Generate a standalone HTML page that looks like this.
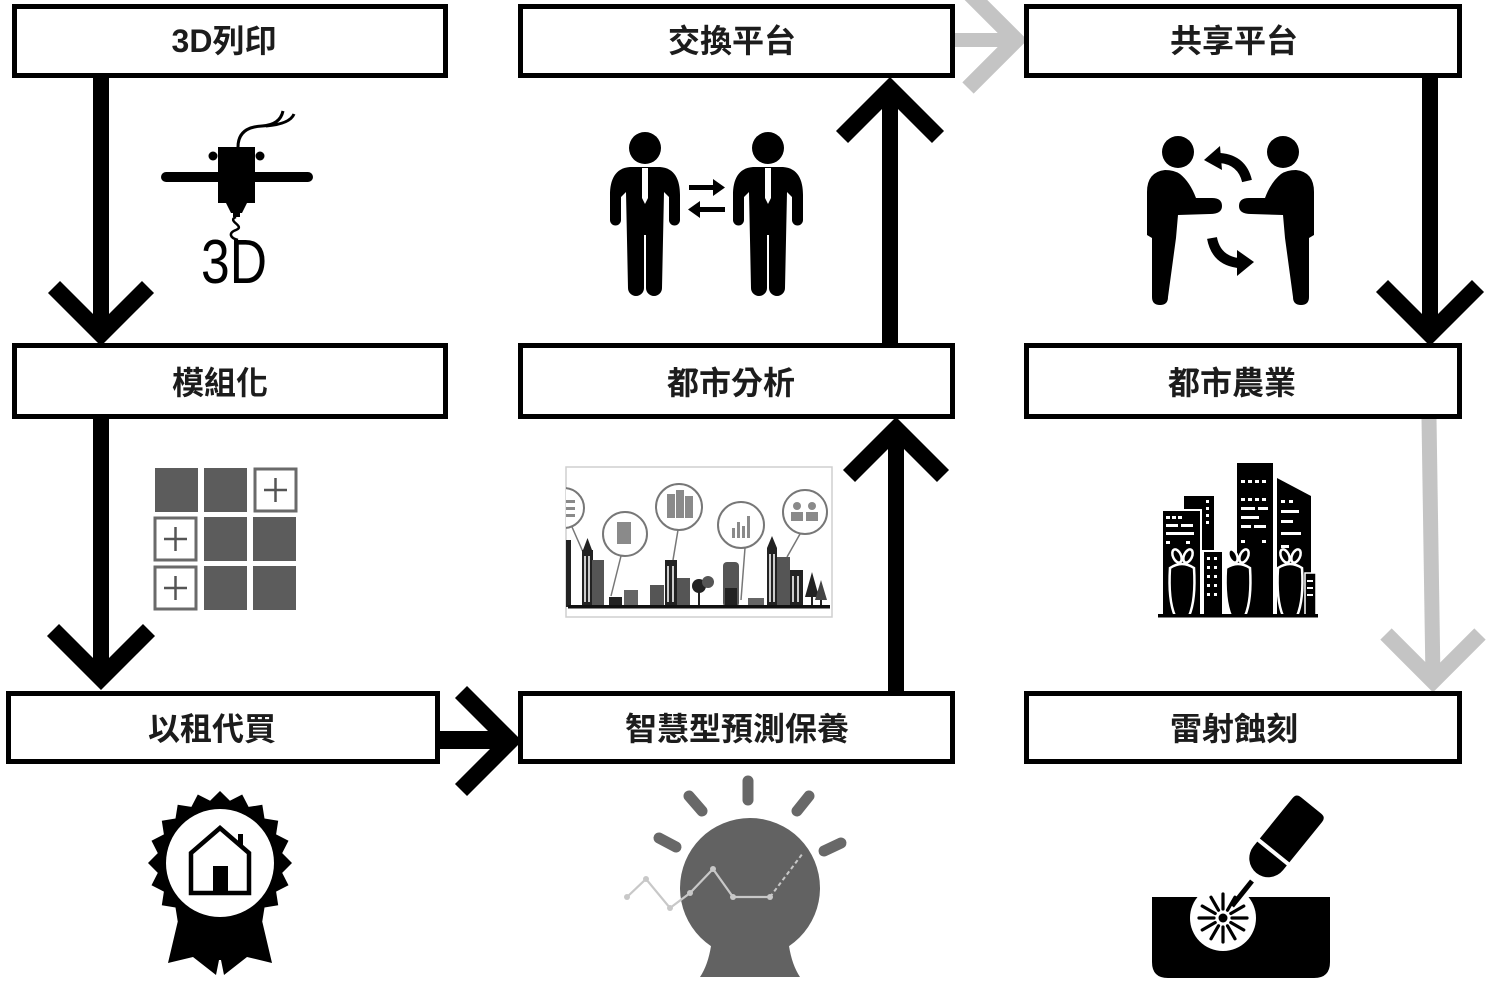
<!DOCTYPE html>
<html><head><meta charset="utf-8"><style>
html,body{margin:0;padding:0;background:#fff;}
svg{display:block;}
.t{font-family:"Liberation Sans","Noto Sans CJK TC","Noto Sans CJK SC",sans-serif;font-size:32px;font-weight:bold;fill:#1c1c1c;text-anchor:middle;}
</style></head><body>
<svg width="1486" height="996" viewBox="0 0 1486 996" xmlns="http://www.w3.org/2000/svg">
<defs>
<clipPath id="cityclip"><rect x="566" y="467" width="266" height="150"/></clipPath>
</defs>
<rect width="1486" height="996" fill="#fff"/>

<!-- ===== connectors ===== -->
<g fill="none" stroke-linejoin="miter" stroke-linecap="butt">
  <line x1="101" y1="76" x2="101" y2="334" stroke="#000" stroke-width="16"/>
  <polyline points="54,287 101,334 148,287" stroke="#000" stroke-width="17"/>
  <line x1="101" y1="417" x2="101" y2="678" stroke="#000" stroke-width="16"/>
  <polyline points="53,630 101,678 149,630" stroke="#000" stroke-width="17"/>
  <line x1="438" y1="740" x2="510" y2="740" stroke="#000" stroke-width="18"/>
  <polyline points="461,692 510,741 461,790" stroke="#000" stroke-width="17"/>
  <line x1="896" y1="693" x2="896" y2="430" stroke="#000" stroke-width="16"/>
  <polyline points="849,476 896,429 943,476" stroke="#000" stroke-width="17"/>
  <line x1="890" y1="345" x2="890" y2="90" stroke="#000" stroke-width="16"/>
  <polyline points="842,137 890,89 938,137" stroke="#000" stroke-width="17"/>
  <line x1="953" y1="40" x2="1014" y2="40" stroke="#c4c4c4" stroke-width="14"/>
  <polyline points="968,-8 1016,40 968,88" stroke="#c4c4c4" stroke-width="16"/>
  <line x1="1430" y1="76" x2="1430" y2="334" stroke="#000" stroke-width="16"/>
  <polyline points="1382,286 1430,334 1478,286" stroke="#000" stroke-width="17"/>
  <line x1="1429" y1="418" x2="1433" y2="680" stroke="#c4c4c4" stroke-width="15"/>
  <polyline points="1386,634 1433,681 1480,634" stroke="#c4c4c4" stroke-width="16"/>
</g>

<!-- ===== boxes ===== -->
<g fill="#fff" stroke="#000" stroke-width="5">
  <rect x="14.5" y="6.5" width="431" height="69"/>
  <rect x="520.5" y="6.5" width="432" height="69"/>
  <rect x="1026.5" y="6.5" width="433" height="69"/>
  <rect x="14.5" y="345.5" width="431" height="71"/>
  <rect x="520.5" y="345.5" width="432" height="71"/>
  <rect x="1026.5" y="345.5" width="433" height="71"/>
  <rect x="8.5" y="693.5" width="429" height="68"/>
  <rect x="520.5" y="693.5" width="432" height="68"/>
  <rect x="1026.5" y="693.5" width="433" height="68"/>
</g>
<text class="t" x="224" y="52">3D列印</text>
<text class="t" x="732" y="52">交換平台</text>
<text class="t" x="1234" y="52">共享平台</text>
<text class="t" x="220" y="394">模組化</text>
<text class="t" x="731" y="394">都市分析</text>
<text class="t" x="1232" y="394">都市農業</text>
<text class="t" x="212" y="740">以租代買</text>
<text class="t" x="737" y="740">智慧型預測保養</text>
<text class="t" x="1234" y="740">雷射蝕刻</text>

<!-- ===== 3D printer icon ===== -->
<g>
  <line x1="166" y1="177" x2="308" y2="177" stroke="#000" stroke-width="10" stroke-linecap="round"/>
  <rect x="218" y="147" width="37" height="56" fill="#000"/>
  <circle cx="213" cy="156" r="4.5" fill="#000"/>
  <circle cx="260" cy="156" r="4.5" fill="#000"/>
  <polygon points="226,203 247,203 242,213 231,213" fill="#000"/>
  <rect x="233" y="212" width="7" height="5" fill="#000"/>
  <path d="M238,147 Q238,127 262,126 Q280,125 283,111" fill="none" stroke="#000" stroke-width="3"/>
  <path d="M266,126 Q290,124 294,114" fill="none" stroke="#000" stroke-width="3"/>
  <path d="M236,217 C226,221 246,226 236,230 C228,233 230,238 238,240" fill="none" stroke="#000" stroke-width="2.5"/>
  <text x="201" y="283" font-family="Liberation Sans, sans-serif" font-size="62" fill="#000" textLength="66" lengthAdjust="spacingAndGlyphs">3D</text>
</g>

<!-- ===== businessmen ===== -->
<g fill="#000">
  <circle cx="645" cy="148" r="16"/>
  <path d="M630,167 C615,168 610,180 610,195 L610,220 A5.5,5.5 0 0 0 621,220 L621,197 L626,192 L628,288 A8,8 0 0 0 644,288 L644,235 L646,235 L646,288 A8,8 0 0 0 662,288 L664,192 L669,197 L669,220 A5.5,5.5 0 0 0 680,220 L680,195 C680,180 675,168 660,167 Z"/>
  <polygon points="642,168 648,168 648,198 645,204 642,198" fill="#fff"/>
  <circle cx="768" cy="148" r="16"/>
  <path d="M753,167 C738,168 733,180 733,195 L733,220 A5.5,5.5 0 0 0 744,220 L744,197 L749,192 L751,288 A8,8 0 0 0 767,288 L767,235 L769,235 L769,288 A8,8 0 0 0 785,288 L787,192 L792,197 L792,220 A5.5,5.5 0 0 0 803,220 L803,195 C803,180 798,168 783,167 Z"/>
  <polygon points="765,168 771,168 771,198 768,204 765,198" fill="#fff"/>
  <rect x="689" y="185" width="26" height="5"/>
  <polygon points="713,179 725,187.5 713,196"/>
  <rect x="698" y="207" width="27" height="5"/>
  <polygon points="700,201 688,209.5 700,218"/>
</g>

<!-- ===== handshake ===== -->
<g fill="#000">
  <circle cx="1178" cy="152" r="16"/>
  <circle cx="1283" cy="152" r="16"/>
  <path d="M1165,170 Q1147,172 1147,192 L1147,235 L1152,238 L1152,297 Q1152,305 1160,305 Q1168,305 1168,297 L1176,238 L1178,215 L1210,214 Q1222,214 1222,206 Q1222,198 1212,198 L1196,198 Q1190,182 1180,174 Q1174,170 1165,170 Z"/>
  <g transform="translate(2461,0) scale(-1,1)">
    <path d="M1165,170 Q1147,172 1147,192 L1147,235 L1152,238 L1152,297 Q1152,305 1160,305 Q1168,305 1168,297 L1176,238 L1178,215 L1210,214 Q1222,214 1222,206 Q1222,198 1212,198 L1196,198 Q1190,182 1180,174 Q1174,170 1165,170 Z"/>
  </g>
  <path d="M1247,181 Q1242,160 1220,158" fill="none" stroke="#000" stroke-width="10"/>
  <polygon points="1204,160 1220,146 1222,170"/>
  <path d="M1212,238 Q1216,260 1238,263" fill="none" stroke="#000" stroke-width="10"/>
  <polygon points="1254,262 1237,250 1237,276"/>
</g>

<!-- ===== module grid ===== -->
<g>
  <rect x="155" y="468" width="43" height="44" fill="#5c5c5c"/>
  <rect x="204" y="468" width="43" height="44" fill="#5c5c5c"/>
  <rect x="255" y="469" width="41" height="42" fill="#fff" stroke="#6a6a6a" stroke-width="3"/>
  <rect x="155" y="518" width="41" height="42" fill="#fff" stroke="#6a6a6a" stroke-width="3"/>
  <rect x="204" y="517" width="43" height="44" fill="#5c5c5c"/>
  <rect x="253" y="517" width="43" height="44" fill="#5c5c5c"/>
  <rect x="155" y="567" width="41" height="42" fill="#fff" stroke="#6a6a6a" stroke-width="3"/>
  <rect x="204" y="566" width="43" height="44" fill="#5c5c5c"/>
  <rect x="253" y="566" width="43" height="44" fill="#5c5c5c"/>
  <g stroke="#555" stroke-width="2.5">
    <line x1="264" y1="490" x2="287" y2="490"/><line x1="275.5" y1="478" x2="275.5" y2="502"/>
    <line x1="164" y1="539" x2="187" y2="539"/><line x1="175.5" y1="527" x2="175.5" y2="551"/>
    <line x1="164" y1="588" x2="187" y2="588"/><line x1="175.5" y1="576" x2="175.5" y2="600"/>
  </g>
</g>

<!-- ===== city analysis picture ===== -->
<g>
  <rect x="566" y="467" width="266" height="150" fill="#fff" stroke="#cfcfcf" stroke-width="1.5"/>
  <g clip-path="url(#cityclip)">
    <g fill="none" stroke="#777" stroke-width="1.5">
      <line x1="572" y1="527" x2="583" y2="552"/>
      <line x1="621" y1="556" x2="611" y2="596"/>
      <line x1="678" y1="530" x2="673" y2="560"/>
      <line x1="745" y1="548" x2="741" y2="600"/>
      <line x1="800" y1="534" x2="787" y2="557"/>
    </g>
    <g fill="#fff" stroke="#777" stroke-width="2">
      <circle cx="564" cy="508" r="20"/>
      <circle cx="625" cy="534" r="22"/>
      <circle cx="679" cy="507" r="23"/>
      <circle cx="741" cy="525" r="23"/>
      <circle cx="805" cy="512" r="22"/>
    </g>
    <g fill="#8a8a8a">
      <rect x="566" y="500" width="9" height="3"/><rect x="566" y="507" width="9" height="3"/><rect x="566" y="514" width="9" height="3"/>
      <rect x="617" y="522" width="14" height="22"/>
      <rect x="667" y="494" width="8" height="24"/><rect x="676" y="490" width="8" height="28"/><rect x="685" y="496" width="8" height="22"/>
      <rect x="732" y="528" width="3" height="10"/><rect x="737" y="522" width="3" height="16"/><rect x="742" y="526" width="3" height="12"/><rect x="747" y="516" width="3" height="22"/>
      <circle cx="797" cy="506" r="4"/><circle cx="812" cy="506" r="4"/><rect x="791" y="512" width="12" height="9"/><rect x="806" y="512" width="12" height="9"/>
    </g>
    <g fill="#222">
      <rect x="566" y="540" width="5" height="67"/>
      <rect x="582" y="550" width="11" height="57"/>
      <polygon points="583,550 587.5,538 592,550"/>
      <rect x="592" y="560" width="12" height="47" fill="#555"/>
      <rect x="609" y="597" width="13" height="10"/>
      <rect x="624" y="590" width="14" height="17" fill="#666"/>
      <rect x="650" y="585" width="14" height="22" fill="#555"/>
      <rect x="665" y="560" width="12" height="47"/>
      <rect x="677" y="578" width="13" height="29" fill="#555"/>
      <circle cx="699" cy="586" r="7"/>
      <circle cx="708" cy="582" r="6" fill="#555"/>
      <rect x="698" y="590" width="2" height="17"/>
      <rect x="723" y="562" width="16" height="45" rx="4" fill="#555"/>
      <rect x="725" y="588" width="12" height="19"/>
      <rect x="748" y="598" width="16" height="9" fill="#666"/>
      <rect x="767" y="548" width="10" height="59"/>
      <polygon points="767,548 772,536 777,548"/>
      <rect x="777" y="557" width="13" height="50" fill="#555"/>
      <rect x="790" y="570" width="13" height="37"/>
      <polygon points="805,597 812,572 819,597"/>
      <polygon points="815,600 821,580 827,600" fill="#444"/>
      <rect x="811" y="597" width="2" height="10"/>
      <rect x="820" y="600" width="2" height="7"/>
    </g>
    <g fill="#ccc">
      <rect x="584" y="556" width="2" height="46"/><rect x="588" y="556" width="2" height="46"/>
      <rect x="667" y="566" width="2" height="36"/><rect x="672" y="566" width="2" height="36"/>
      <rect x="769" y="554" width="2" height="48"/><rect x="773" y="554" width="2" height="48"/>
      <rect x="792" y="576" width="2" height="26"/><rect x="797" y="576" width="2" height="26"/>
    </g>
    <rect x="568" y="605" width="262" height="3.5" fill="#111"/>
  </g>
</g>

<!-- ===== city farm ===== -->
<g>
  <rect x="1237" y="463" width="36" height="154" fill="#000"/>
  <polygon points="1277,478 1311,496 1311,617 1277,617" fill="#000"/>
  <rect x="1184" y="496" width="30" height="121" fill="#000"/>
  <rect x="1162" y="510" width="39" height="107" fill="#000" stroke="#fff" stroke-width="2"/>
  <rect x="1203" y="551" width="20" height="66" fill="#000" stroke="#fff" stroke-width="2"/>
  <rect x="1305" y="573" width="11" height="44" fill="#000" stroke="#fff" stroke-width="1.5"/>
  <g fill="#fff">
    <rect x="1241" y="480" width="4" height="3"/><rect x="1248" y="480" width="4" height="3"/><rect x="1255" y="480" width="4" height="3"/><rect x="1262" y="480" width="4" height="3"/>
    <rect x="1241" y="498" width="4" height="3"/><rect x="1248" y="498" width="4" height="3"/><rect x="1255" y="498" width="4" height="3"/><rect x="1262" y="498" width="4" height="3"/>
    <rect x="1241" y="507" width="14" height="3"/><rect x="1258" y="507" width="10" height="3"/>
    <rect x="1241" y="516" width="18" height="3"/>
    <rect x="1241" y="525" width="10" height="3"/><rect x="1254" y="525" width="12" height="3"/>
    <rect x="1241" y="540" width="4" height="3"/><rect x="1262" y="540" width="4" height="3"/>
    <rect x="1281" y="500" width="4" height="3"/><rect x="1289" y="500" width="4" height="3"/>
    <rect x="1281" y="510" width="18" height="3"/><rect x="1281" y="520" width="12" height="3"/>
    <rect x="1281" y="532" width="20" height="3"/><rect x="1281" y="545" width="8" height="3"/>
    <rect x="1166" y="516" width="4" height="3"/><rect x="1172" y="516" width="4" height="3"/><rect x="1178" y="516" width="4" height="3"/>
    <rect x="1166" y="524" width="12" height="3"/><rect x="1181" y="524" width="12" height="3"/>
    <rect x="1166" y="532" width="28" height="3"/>
    <rect x="1166" y="541" width="4" height="3"/><rect x="1186" y="541" width="4" height="3"/>
    <rect x="1206" y="500" width="3" height="3"/><rect x="1206" y="507" width="3" height="3"/><rect x="1206" y="514" width="3" height="3"/><rect x="1206" y="521" width="3" height="3"/>
    <rect x="1207" y="557" width="3" height="3"/><rect x="1214" y="557" width="3" height="3"/>
    <rect x="1207" y="566" width="3" height="3"/><rect x="1214" y="566" width="3" height="3"/>
    <rect x="1207" y="575" width="3" height="3"/><rect x="1214" y="575" width="3" height="3"/>
    <rect x="1207" y="584" width="3" height="3"/><rect x="1214" y="584" width="3" height="3"/>
    <rect x="1207" y="593" width="3" height="3"/><rect x="1214" y="593" width="3" height="3"/>
    <rect x="1307" y="580" width="6" height="2"/><rect x="1307" y="587" width="6" height="2"/><rect x="1307" y="594" width="6" height="2"/>
  </g>
  <g fill="#000" stroke="#fff" stroke-width="2.5">
    <path d="M1170,568 Q1168,600 1175,616 L1189,616 Q1196,600 1194,568 Q1182,560 1170,568 Z"/>
    <path d="M1226,568 Q1224,600 1231,616 L1245,616 Q1252,600 1250,568 Q1238,560 1226,568 Z"/>
    <path d="M1278,568 Q1276,600 1283,616 L1297,616 Q1304,600 1302,568 Q1290,560 1278,568 Z"/>
    <ellipse cx="1177" cy="556" rx="4" ry="7" transform="rotate(-25 1177 556)"/>
    <ellipse cx="1188" cy="556" rx="4" ry="7" transform="rotate(25 1188 556)"/>
    <ellipse cx="1233" cy="556" rx="4" ry="7" transform="rotate(-25 1233 556)"/>
    <ellipse cx="1244" cy="556" rx="4" ry="7" transform="rotate(25 1244 556)"/>
    <ellipse cx="1285" cy="556" rx="4" ry="7" transform="rotate(-25 1285 556)"/>
    <ellipse cx="1296" cy="556" rx="4" ry="7" transform="rotate(25 1296 556)"/>
  </g>
  <rect x="1158" y="614" width="160" height="3.5" fill="#000"/>
</g>

<!-- ===== award badge ===== -->
<g>
  <path d="M180,912 L260,912 L272,963 L247,957 L224,975 L221,960 L219,960 L216,975 L193,957 L168,963 Z" fill="#000"/>
  <polygon fill="#000" points="292,863 282.2,872.9 288.5,885.2 276.1,891.6 278.2,905.3 264.5,907.5 262.3,921.2 248.6,919.1 242.2,931.5 229.9,925.2 220,935 210.1,925.2 197.8,931.5 191.4,919.1 177.7,921.2 175.5,907.5 161.8,905.3 163.9,891.6 151.5,885.2 157.8,872.9 148,863 157.8,853.1 151.5,840.8 163.9,834.4 161.8,820.7 175.5,818.5 177.7,804.8 191.4,806.9 197.8,794.5 210.1,800.8 220,791 229.9,800.8 242.2,794.5 248.6,806.9 262.3,804.8 264.5,818.5 278.2,820.7 276.1,834.4 288.5,840.8 282.2,853.1"/>
  <circle cx="220" cy="863" r="54" fill="#fff"/>
  <path d="M191,893 L191,853 L220,828 L249,853 L249,893 Z" fill="none" stroke="#000" stroke-width="4.5" stroke-linejoin="miter"/>
  <rect x="238" y="834" width="5" height="12" fill="#000"/>
  <rect x="213" y="866" width="15" height="25" fill="#000"/>
</g>

<!-- ===== prediction ball ===== -->
<g>
  <path d="M711,946 L789,946 Q792,965 800,977 L700,977 Q708,965 711,946 Z" fill="#626262"/>
  <circle cx="750" cy="888" r="70" fill="#626262"/>
  <g stroke="#686868" stroke-width="11" stroke-linecap="round">
    <line x1="748" y1="781" x2="748" y2="800"/>
    <line x1="689" y1="796" x2="702" y2="811"/>
    <line x1="809" y1="796" x2="797" y2="811"/>
    <line x1="659" y1="838" x2="676" y2="847"/>
    <line x1="841" y1="843" x2="824" y2="851"/>
  </g>
  <polyline points="627,897 646,879 670,908 690,893 713,869 733,897 770,897" fill="none" stroke="#c8c8c8" stroke-width="2.2"/>
  <line x1="770" y1="897" x2="803" y2="853" stroke="#c8c8c8" stroke-width="2" stroke-dasharray="4 3"/>
  <g fill="#c8c8c8">
    <circle cx="627" cy="897" r="3"/><circle cx="646" cy="879" r="3"/><circle cx="670" cy="908" r="3"/><circle cx="690" cy="893" r="3"/>
    <circle cx="713" cy="869" r="3"/><circle cx="733" cy="897" r="3"/><circle cx="770" cy="897" r="3"/>
  </g>
</g>

<!-- ===== laser engraving ===== -->
<g>
  <path d="M1152,897 L1330,897 L1330,962 Q1330,978 1314,978 L1168,978 Q1152,978 1152,962 Z" fill="#000"/>
  <circle cx="1223" cy="918" r="33" fill="#fff"/>
  <circle cx="1223" cy="918" r="4.5" fill="#000"/>
  <g transform="translate(1223 918)" stroke="#000" stroke-width="3.2" stroke-linecap="round">
    <line x1="9" y1="0" x2="24" y2="0"/>
    <line x1="9" y1="0" x2="24" y2="0" transform="rotate(30)"/>
    <line x1="9" y1="0" x2="24" y2="0" transform="rotate(60)"/>
    <line x1="9" y1="0" x2="24" y2="0" transform="rotate(90)"/>
    <line x1="9" y1="0" x2="24" y2="0" transform="rotate(120)"/>
    <line x1="9" y1="0" x2="24" y2="0" transform="rotate(150)"/>
    <line x1="9" y1="0" x2="24" y2="0" transform="rotate(180)"/>
    <line x1="9" y1="0" x2="24" y2="0" transform="rotate(210)"/>
    <line x1="9" y1="0" x2="24" y2="0" transform="rotate(240)"/>
    <line x1="9" y1="0" x2="24" y2="0" transform="rotate(270)"/>
    <line x1="9" y1="0" x2="24" y2="0" transform="rotate(300)"/>
    <line x1="9" y1="0" x2="24" y2="0" transform="rotate(330)"/>
  </g>
  <line x1="1252" y1="881" x2="1232" y2="906" stroke="#000" stroke-width="5"/>
  <g transform="translate(1262 866) rotate(-51)">
    <path d="M10,-19 L72,-19 Q78,-19 78,-13 L78,13 Q78,19 72,19 L10,19 A19,19 0 0 1 10,-19 Z" fill="#000"/>
    <line x1="18" y1="-21" x2="18" y2="21" stroke="#fff" stroke-width="4"/>
  </g>
</g>
</svg>
</body></html>
